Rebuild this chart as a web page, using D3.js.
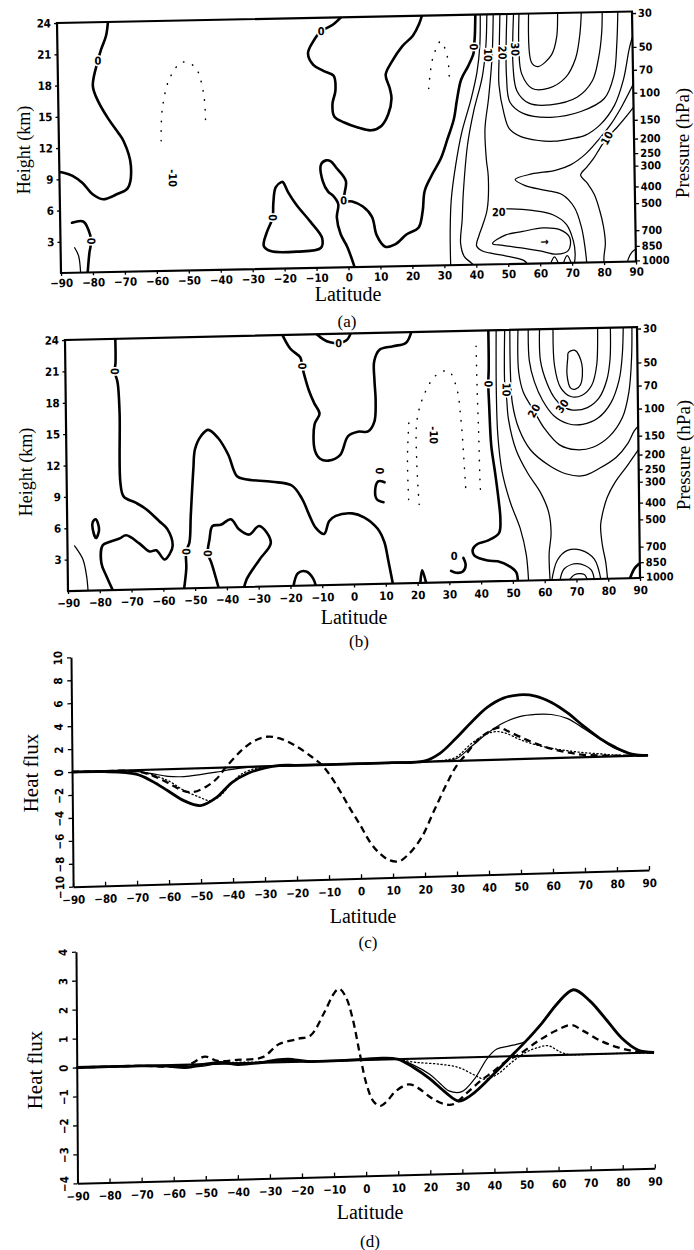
<!DOCTYPE html>
<html><head><meta charset="utf-8">
<script src="https://cdn.jsdelivr.net/npm/d3@7/dist/d3.min.js"></script>
<style>
body{margin:0;background:#fff;}
svg{display:block;}
.tk{font-family:"DejaVu Sans Condensed","DejaVu Sans",sans-serif;font-weight:bold;font-size:11.5px;fill:#000;}
.ttl{font-family:"Liberation Serif","DejaVu Serif",serif;fill:#000;}
.cl{font-family:"DejaVu Sans Condensed","DejaVu Sans",sans-serif;font-weight:bold;font-size:11px;fill:#000;stroke:#fff;stroke-width:3px;paint-order:stroke;}
</style></head><body>
<svg id="fig" width="694" height="1250" xmlns="http://www.w3.org/2000/svg"></svg>
<script>
// ================= DATA =================
const latTicks = [-90,-80,-70,-60,-50,-40,-30,-20,-10,0,10,20,30,40,50,60,70,80,90];
const heightTicks = [3,6,9,12,15,18,21,24];
const pressureTicks = [30,50,70,100,150,200,250,300,400,500,700,850,1000];
const pressureHeights = [23.85,20.6,18.4,16.2,13.6,11.8,10.4,9.2,7.2,5.6,3.0,1.5,0.1];
const fluxTicksC = [-10,-8,-6,-4,-2,0,2,4,6,8,10];
const fluxTicksD = [-4,-3,-2,-1,0,1,2,3,4];

// ---- panel (a): contours [latitude, height km] ----
const aZeroWest = [[-73.9,24.5],[-74.7,22.7],[-76.3,21.4],[-77.4,20.3],[-79.1,17.9],[-77.5,16.4],[-74.4,14.7],[-71.5,13.4],[-69.7,12.5],[-67.6,10.2],[-68.7,8.0],[-71.8,7.5],[-76.5,7.0],[-79.7,7.5],[-82.8,8.6],[-85.9,9.3],[-88.4,9.6],[-91,9.7]];
const aZeroSW = [[-86.3,4.8],[-82.8,4.9],[-81.2,4.1],[-80.4,3.0],[-81.0,1.9],[-81.8,-0.5]];
const aThinSW = [[-85.6,2.4],[-84.4,1.6],[-83.8,-0.5]];
const aZeroTop = [[0.5,24.5],[-3.7,23.3],[-7.4,22.7],[-10,21.7],[-11.6,20.6],[-10,19.5],[-6.9,18.9],[-3.7,18.4],[-3.2,17.0],[-4.2,15.7],[-3.7,14.5],[-0.6,13.9],[3.6,13.4],[7.8,13.1],[11,13.5],[13.2,14.6],[14.3,16.1],[13.8,17.1],[12.6,18.4],[14.5,19.6],[17.9,21.1],[21.3,22.1],[23.3,23.2],[24.7,24.5]];
const aZeroLobe = [[-20.6,8.3],[-22.4,7.8],[-23.2,6.3],[-23.5,4.9],[-25.4,3.5],[-26.4,2.2],[-24.3,1.7],[-15.9,1.6],[-8.6,1.9],[-8.1,2.85],[-11.7,4.45],[-15.9,6.05],[-18.5,7.3],[-20.1,8.3]];
const aZeroMain = [[2.4,-0.5],[-0.2,1.9],[-2.3,3.2],[-3.4,4.8],[-2.9,6.1],[-4.5,6.9],[-6.0,7.3],[-7.6,8.3],[-8.1,9.9],[-6.5,10.3],[-5.0,10.2],[-3.4,9.6],[-0.4,8.3],[-0.8,7.2],[-1.2,6.4],[1.5,6.3],[4.8,5.8],[7.6,4.8],[9.0,3.0],[11.6,1.9],[14.7,2.1],[18.4,3.05],[22.1,3.65],[23.5,5.25],[24.2,7.15],[26.3,8.55],[29.5,10.3],[31.6,12.1],[33.7,14.0],[34.8,15.9],[36.2,17.8],[38.5,19.1],[40.2,20.3],[40.4,21],[40.7,22.0],[41.0,24.5]];
const aC5 = [[32.0,-0.5],[32.0,3.2],[32.5,6.3],[34.0,9.5],[36.1,12.7],[39.2,15.9],[41.2,18.5],[42.2,21],[42.5,24.5]];
const aC10 = [[40.6,-0.5],[38.4,0.2],[36.3,0.8],[35.2,2.1],[35.8,4.3],[36.3,6.9],[37.9,11.6],[40.0,14.8],[42.8,18],[44.1,21],[44.6,24.5]];
const aC15 = [[46.6,24.5],[46,20],[44.7,16],[43.4,13],[43.7,10],[44.2,8.45],[43.7,5.3],[42.1,3.7],[41,2.8],[40.2,1.8],[42,1.3],[44.2,1.1],[50.5,0.7],[55,0.3],[57,-0.5]];
const aC20 = [[48.7,24.5],[48.2,20],[48,17.2],[49.4,14.5],[51,13.0],[54.6,12.2],[60,11.8],[65.2,11.7],[70,11.9],[74.7,12.2],[79.5,13.2],[84,15],[87,17.5],[89,20.5],[90.5,22]];
const aC25 = [[50.9,24.5],[50.4,18],[51.4,15.5],[55.6,14.4],[64,14.0],[73.5,14.5],[80.9,15.7],[84,17.9],[85.1,21],[85.6,24.5]];
const aC30 = [[53.0,24.5],[52.5,19.0],[53.6,16.6],[57.3,15.4],[64.0,15.2],[72.5,15.9],[77.2,17.4],[79.3,19.6],[80.4,22.0],[80.7,24.5]];
const aC35 = [[54.7,24.5],[54.4,20.5],[55.2,18.2],[58.4,16.8],[63.6,16.8],[68.9,17.8],[72.1,19.6],[73.6,22.0],[74.2,24.5]];
const aC40 = [[57.7,24.5],[58.3,19.3],[60.3,18.9],[64.6,20.0],[66.3,21.7],[66.7,24.5]];
const aNotch15 = [[91,17.6],[86.5,15],[83,13.3],[79,11.8],[74.7,10.4],[70,9.4],[65.2,8.9],[57.8,8.6],[52.6,8.1],[55.7,7.5],[62.1,7.0],[67.3,6.55],[71,5.3],[73.1,3.4],[74.1,1.5],[74.7,-0.5]];
const aLow20 = [[49.8,5.3],[51,5.3],[57.8,5.1],[64.2,4.65],[68.4,3.7],[70.5,2.1],[71,0.85],[70.5,-0.5]];
const aLoop25 = [[45.2,2.0],[49.4,2.8],[54.7,3.1],[61,3.4],[66.3,3.2],[69.4,2.4],[68.9,1.2],[65.2,0.85],[60,1.2],[54.7,1.5],[48.4,1.8]];
const aEast10 = [[91,15.2],[87.3,13.8],[84.7,12.9],[81.5,11.9],[79.4,11.0],[77.3,10.0],[75.2,9.2],[73.1,8.4],[75.2,7.6],[77.3,6.5],[78.9,4.96],[80,3.4],[80.5,1.8],[80,0.5],[80,-0.5]];
const aBump1 = [[63,-0.3],[64.5,0.6],[66,-0.3]];
const aBump2 = [[67,-0.3],[68.5,0.7],[70,-0.3]];
const aBump3 = [[87,-0.3],[88.5,0.8],[91,1.4]];
const aNeg1 = [[-58,12.5],[-57.5,15.5],[-55,18.5],[-51,20],[-47,19.5],[-44.5,17],[-44,14]];
const aNeg2 = [[26,17],[27.5,20],[30,21.5],[32,20],[32.5,17.5]];
const aLabels = [['0',-77.4,20.3],['0',-80.4,3.0],['0',-7.4,22.7],['0',-23.5,4.9],['0',-1.2,6.4],['0',40.3,20.9],['10',44.7,20.1],['20',49.2,20.3],['30',53.2,20.6],['-10',-54.6,8.9],['10',81.5,11.9],['20',47.3,5.0],['\u2192',61.5,2.1]];

// ---- panel (b): contours [latitude, height km] ----
const bZeroW = [[-74.2,24.5],[-74.2,21.7],[-74.5,20.9],[-73.6,19.8],[-73.1,16.9],[-73.1,10.2],[-72.1,8.9],[-68.4,8.3],[-65.3,7.7],[-61.1,6.5],[-58.5,5.7],[-56.9,4.1],[-57.9,3.3],[-59.5,2.8],[-62.1,3.7],[-64.2,3.6],[-67.4,4.4],[-71.5,5.2],[-73.6,4.9],[-76.8,4.6],[-78.9,4.3],[-79.4,2.6],[-77.8,1.3],[-75.2,-0.5]];
const bDiamond = [[-82.0,6.5],[-81.0,6.8],[-80.0,5.8],[-81.0,5.0],[-82.0,5.9]];
const bThinW = [[-87.8,4.3],[-87.3,4.1],[-85.2,3.0],[-84.1,1.4],[-83.6,-0.5]];
const bZeroM1 = [[-53.7,-0.5],[-52.7,1.9],[-52.7,3.5],[-51.6,4.4],[-51.1,6.9],[-50.1,11.4],[-49.5,13.3],[-47.4,14.6],[-45.3,15.1],[-42.2,14.3],[-39.1,12.7],[-36.4,10.6],[-33.8,10.3],[-25.4,10.0],[-19.2,9.6],[-16.0,8.3],[-13.9,6.8],[-11.8,5.5],[-9.2,4.9],[-7.6,6.1],[-5.5,6.6],[-0.3,6.8],[3.4,6.4],[7.6,5.3],[9.7,4.0],[10.8,2.35],[11.8,0.7],[12.5,-0.5]];
const bZeroM2 = [[-42.2,-0.5],[-44.8,2.4],[-45.9,3.3],[-45.3,4.6],[-44.3,5.9],[-41.7,6.0],[-38.5,6.5],[-35.9,5.5],[-32.8,5.0],[-29.6,5.8],[-26,4.2],[-29.6,2.6],[-33.8,0.7],[-34.9,-0.5]];
const bZeroTop = [[-22.3,24.5],[-19.2,22.7],[-16,21.8],[-15.5,21.0],[-14.9,20.2],[-13.4,18.6],[-11.8,17.4],[-10.2,16.4],[-11.8,15.4],[-11.8,12.9],[-10.2,12.1],[-7.6,11.9],[-3.9,12.4],[-1.3,14.2],[1.8,14.6],[5.0,14.6],[7.0,15.5],[7.5,17.5],[7.2,19.5],[7.2,21.3],[9.0,22.4],[13.2,22.7],[17.3,23.0],[19.4,24.5]];
const bZeroTopU = [[-12.5,24.5],[-8.7,23.5],[-6.6,23.2],[-3.9,23.1],[-1.3,23.4],[0.5,24.5]];
const bZeroC = [[10,9.7],[8,9.8],[7,8.9],[7.5,8.1],[9.6,7.8]];
const bBump1 = [[-19.2,-0.3],[-17.6,1.2],[-15,1.35],[-12.9,0.7],[-11.8,-0.3]];
const bBump2 = [[20.8,-0.3],[21.5,1.2],[22.9,-0.3]];
const bZeroE = [[43.2,24.5],[43.2,20.4],[43.0,18.9],[43.2,16.8],[43.7,13.0],[44.8,10.4],[45.8,7.8],[46.3,5.9],[45.8,4.6],[42.2,3.9],[39.0,3.6],[37.5,3.1],[38.0,2.5],[42.2,2.0],[45.3,1.9],[49.0,1.4],[51.1,0.8],[51.6,-0.5]];
const bZeroCurl = [[34.5,2.3],[35.2,1.6],[34.3,1.0],[32.2,0.9],[30.6,1.1]];
const bZeroCorner = [[86.5,-0.3],[88.5,1.0],[91,1.6]];
const bC5 = [[45.7,24.5],[45.5,18],[45.8,14],[47,10.5],[49.5,7.5],[52.5,5],[54.3,2.5],[55,-0.5]];
const bC10L = [[48.4,24.5],[48.2,18.6],[48.7,17.5],[49.2,15.5],[51.5,12.5],[55,10.3],[59,8.4],[61.5,6.5],[62.2,4.5],[61.5,2.5],[61.8,-0.5]];
const bC15 = [[50,24.5],[50,20],[50.5,17],[52.5,14.5],[56,12.5],[62.1,10.9],[67.3,10.1],[72.5,9.9],[77.8,10.6],[83,11.6],[86.7,12.9],[88.8,14.1],[91,14.8]];
const bC20 = [[52.6,24.5],[52.6,20],[54,18],[57.3,16.2],[60.5,14.5],[65.2,12.9],[70.4,12.4],[75.7,12.6],[80.9,13.6],[85.1,15.4],[87.2,17.8],[88.2,21.2],[88.4,24.5]];
const bC25 = [[55.8,24.5],[56,21],[57.5,19],[60,17.2],[63.5,15.7],[68,14.9],[72.5,14.8],[77.5,15.4],[81.5,16.8],[84.2,19],[85.3,21.5],[85.7,24.5]];
const bC30 = [[59.4,24.5],[59.5,21],[61.5,18.8],[64,17.3],[66.2,16.6],[69.4,16.2],[74.1,16.4],[77.8,17.3],[80.3,19],[81.4,21],[81.6,24.5]];
const bC35 = [[63.6,24.5],[63.9,20.5],[65.7,18.4],[68.9,17.5],[72.5,17.6],[75.5,18.5],[77.2,20.5],[77.6,24.5]];
const bC40 = [[68.3,21.7],[70.4,21.9],[72.5,20.6],[72,18.6],[70.4,18.2],[68.9,18.3],[67.8,19.6],[68.1,21.2]];
const bC10R = [[91,12.7],[86.5,10.8],[82.5,9.2],[80,7.8],[78.5,6.3],[77.8,5.1],[78.3,3.2],[79.3,1.55],[79.9,-0.5]];
const bArch1 = [[62.1,-0.3],[64.1,1.9],[67.3,2.8],[71.5,2.8],[75.7,1.9],[77.8,-0.3]];
const bArch2 = [[64.7,-0.3],[66.2,1.05],[70.4,1.5],[74.6,0.9],[75.7,-0.3]];
const bArch3 = [[67.3,-0.3],[69.4,0.45],[72.5,0.45],[73.6,-0.3]];
const bNeg1 = [[20.8,7.5],[20.2,11.6],[20.4,15.5],[22.5,17.8],[26.5,19.8],[30.5,20.2],[33,18.6],[34.3,15.4],[35,12],[35.5,9]];
const bNeg2 = [[39.3,22.5],[39.5,18],[39.8,14],[40,10],[40.2,8]];
const bNeg3 = [[17.5,8],[17.3,12],[18,16]];
const bLabels = [['0',-74.5,20.9],['0',-15.5,21.0],['0',-3.9,23.1],['0',-52.7,3.5],['0',-45.9,3.3],['0',8.5,10.8],['0',43.0,18.9],['0',31.6,2.5],['10',48.7,18.3],['20',57.3,16.2],['30',66.2,16.6],['-10',25.6,14.1]];

// ---- panel (c): heat flux series ----
const cThickLat = [-90,-80,-70,-65,-60,-55,-50,-45,-40,-35,-30,-25,-20,-10,0,10,20,25,30,35,40,45,50,55,60,65,70,75,80,85,90];
const cThickVal = [0,-0.05,-0.35,-1.0,-1.9,-2.8,-3.25,-2.6,-1.3,-0.55,-0.15,0.05,0.02,0,0,0,0.05,0.7,1.95,3.35,4.6,5.35,5.6,5.45,4.85,3.9,2.7,1.6,0.75,0.15,0];
const cThinLat = [-90,-80,-70,-65,-60,-55,-50,-45,-40,-35,-30,-20,-10,0,10,20,25,30,35,40,45,50,55,60,65,70,75,80,85,90];
const cThinVal = [0,-0.02,-0.1,-0.35,-0.62,-0.68,-0.55,-0.38,-0.18,-0.05,0,0,0,0,0,0,0.05,0.18,1.25,2.35,3.2,3.7,3.85,3.8,3.4,2.5,1.55,0.65,0.15,0];
const cDotLat = [-90,-80,-70,-65,-60,-55,-50,-47,-44,-40,-37,-32,-25,-10,0,10,20,25,30,35,40,43,46,50,55,60,65,70,75,80,90];
const cDotVal = [0,-0.02,-0.1,-0.45,-1.0,-1.9,-2.55,-2.85,-2.5,-1.3,-0.6,-0.1,0,0,0,0,0,0.05,0.32,1.5,2.3,2.45,2.25,1.7,1.2,0.85,0.6,0.39,0.25,0.1,0];
const cDashLat = [-90,-80,-70,-65,-60,-55,-52,-48,-45,-42,-37,-33,-29,-25,-20,-15,-12,-9,-6,-3,0,3,6,9,12,15,19,23,27,30,33,37,40,43.5,46,50,55,60,65,70,80,90];
const cDashVal = [0,0,-0.1,-0.5,-1.2,-1.95,-2.05,-1.6,-1.0,0.0,1.45,2.25,2.58,2.4,1.7,0.7,0.0,-1.1,-2.5,-4.0,-5.4,-6.9,-7.9,-8.5,-8.6,-8.0,-6.6,-4.3,-2.0,-0.5,0.5,1.8,2.4,2.8,2.5,1.95,1.3,0.8,0.45,0.2,0.05,0];

// ---- panel (d): heat flux series ----
const dThickLat = [-90,-80,-70,-62,-56,-50,-45,-40,-33,-28,-24,-18,-10,0,5,10,15,20,25,29,33,40,45,50,55,60,65,70,75,80,85,90];
const dThickVal = [0,0,0,-0.03,-0.1,0.0,0.05,-0.04,0.0,0.08,0.1,0.0,0.0,0.03,0.05,0,-0.3,-0.7,-1.2,-1.5,-1.3,-0.6,-0.05,0.5,1.1,1.78,2.24,1.85,1.2,0.52,0.1,0];
const dThinLat = [-90,-70,-58,-52,-45,-38,-30,-25,-15,0,5,10,15,20,23,26,30,34,38,41,45,50,54,58,62,65,70,75,80,85,90];
const dThinVal = [0,0,-0.03,-0.08,0.02,0.0,0.03,0.06,0.0,0.02,0.04,0,-0.22,-0.55,-0.85,-1.14,-1.18,-0.75,-0.05,0.26,0.36,0.5,0.98,1.55,2.05,2.24,1.85,1.2,0.52,0.1,0];
const dDotLat = [-90,-70,-55,-45,-30,-20,0,10,12,16,23,29,34,37,41,45.5,50,54,57,61,64,70,80,90];
const dDotVal = [0,0,-0.05,0.03,0.02,0,0,0,-0.05,-0.13,-0.21,-0.34,-0.62,-0.77,-0.62,-0.22,0.12,0.28,0.33,0.09,0,0,0,0];
const dDashLat = [-90,-80,-70,-60,-55,-50,-46,-40,-32,-27,-21,-17,-13,-9.4,-8,-6,-4,-1.7,0.3,2.4,4.5,6.6,9.4,13.5,16.3,20.5,24.7,27.5,31.6,35.8,40,44,48,54,59.4,64.3,67.8,73.4,79,84.6,90];
const dDashVal = [0,0,0,-0.05,0.0,0.26,0.1,0.12,0.19,0.62,0.79,0.9,1.62,2.37,2.48,2.2,1.49,0.2,-0.84,-1.43,-1.6,-1.45,-1.1,-0.88,-1.01,-1.37,-1.6,-1.6,-1.23,-0.83,-0.5,-0.16,0.06,0.51,0.84,1.02,0.82,0.45,0.2,0.05,0];

// ================= DRAWING =================
const svg = d3.select('#fig');
svg.append('rect').attr('width',694).attr('height',1250).attr('fill','#fff');

// panel placed as an affine frame (the scanned figure is slightly skewed)
function makePanel(TL, TR, BL) {
  const W = TR[0]-TL[0], H = BL[1]-TL[1];
  const b = (TR[1]-TL[1])/W, c = (BL[0]-TL[0])/H;
  const g = svg.append('g').attr('transform', `matrix(1,${b},${c},1,${TL[0]},${TL[1]})`);
  return {g, W, H};
}
function cleanAxis(a) {
  a.attr('font-family', null).attr('font-size', null);
  a.selectAll('text').attr('class', 'tk');
  a.selectAll('line').attr('stroke', '#000').attr('stroke-width', 1.3);
}

function drawContourPanel(geom, lines, labels, rots, clipId, padBottom) {
  const p = makePanel(geom.TL, geom.TR, geom.BL);
  const x = d3.scaleLinear().domain([-90,90]).range([0,p.W]);
  const y = d3.scaleLinear().domain([0,24]).range([p.H,0]);
  const open = d3.line().x(d=>x(d[0])).y(d=>y(d[1])).curve(d3.curveCatmullRom.alpha(0.5));
  const closed = d3.line().x(d=>x(d[0])).y(d=>y(d[1])).curve(d3.curveCatmullRomClosed.alpha(0.5));
  p.g.append('clipPath').attr('id', clipId).append('rect').attr('width', p.W).attr('height', p.H);
  const inner = p.g.append('g').attr('clip-path', `url(#${clipId})`);
  inner.selectAll('path').data(lines).join('path')
    .attr('d', d => (d.closed ? closed : open)(d.pts))
    .attr('fill', 'none').attr('stroke', '#000')
    .attr('stroke-width', d => d.type === 'zero' ? 2.6 : (d.type === 'neg' ? 1.5 : 1.25))
    .attr('stroke-dasharray', d => d.type === 'neg' ? '0.5,9' : null)
    .attr('stroke-linecap', 'round').attr('stroke-linejoin', 'round');
  inner.selectAll('text').data(labels).join('text').attr('class', 'cl')
    .attr('transform', (d,i) => `translate(${x(d[1])},${y(d[2])}) rotate(${rots[i]})`)
    .attr('text-anchor', 'middle').attr('dy', '0.35em').text(d => d[0]);
  p.g.append('rect').attr('width', p.W).attr('height', p.H)
    .attr('fill', 'none').attr('stroke', '#000').attr('stroke-width', 2.2);
  const bx = p.g.append('g').attr('transform', `translate(0,${p.H})`)
    .call(d3.axisBottom(x).tickValues(latTicks).tickSize(3).tickSizeOuter(0).tickPadding(padBottom));
  bx.select('.domain').remove(); cleanAxis(bx);
  const ly = p.g.append('g')
    .call(d3.axisLeft(y).tickValues(heightTicks).tickSize(3).tickSizeOuter(0).tickPadding(3));
  ly.select('.domain').remove(); cleanAxis(ly);
  const ry = p.g.append('g').attr('transform', `translate(${p.W},0)`)
    .call(d3.axisRight(y).tickValues(pressureHeights).tickFormat((d,i) => pressureTicks[i]).tickSize(4).tickSizeOuter(0).tickPadding(2));
  ry.select('.domain').remove(); cleanAxis(ry);
  ry.selectAll('text').style('font-size', '11px');
  return p;
}

function drawFluxPanel(geom, yDom, yTicks, series) {
  const p = makePanel(geom.TL, geom.TR, geom.BL);
  const x = d3.scaleLinear().domain([-90,90]).range([0,p.W]);
  const y = d3.scaleLinear().domain(yDom).range([p.H,0]);
  const line = d3.line().x(d=>x(d[0])).y(d=>y(d[1])).curve(d3.curveCatmullRom.alpha(0.5));
  p.g.append('line').attr('x1', x(-90)).attr('x2', x(90)).attr('y1', y(0)).attr('y2', y(0))
    .attr('stroke', '#000').attr('stroke-width', 2.2);
  const sty = {
    thick: {w: 2.8, dash: null},
    thin:  {w: 1.2, dash: null},
    dash:  {w: 2.3, dash: '7,4.5'},
    dot:   {w: 1.3, dash: '1.2,2.6'}
  };
  p.g.selectAll('path.s').data(series).join('path').attr('class', 's')
    .attr('d', s => line(d3.zip(s.lat, s.val)))
    .attr('fill', 'none').attr('stroke', '#000')
    .attr('stroke-width', s => sty[s.kind].w)
    .attr('stroke-dasharray', s => sty[s.kind].dash)
    .attr('stroke-linecap', s => s.kind === 'dot' ? 'round' : 'butt')
    .attr('stroke-linejoin', 'round');
  const ax = p.g.append('g').attr('transform', `translate(0,${p.H})`)
    .call(d3.axisBottom(x).tickValues(latTicks).tickSize(-4).tickSizeOuter(0).tickPadding(9));
  cleanAxis(ax);
  ax.select('.domain').attr('stroke', '#000').attr('stroke-width', 2);
  const ay = p.g.append('g')
    .call(d3.axisLeft(y).tickValues(yTicks).tickSize(4).tickSizeOuter(0));
  cleanAxis(ay);
  ay.select('.domain').attr('stroke', '#000').attr('stroke-width', 2);
  ay.selectAll('text').attr('x', null).attr('dy', null).attr('text-anchor', 'middle')
    .attr('transform', 'translate(-13,0) rotate(-90)').attr('dy', '0.35em');
  return p;
}

// ---- panel (a) ----
const Z = 'zero', T = 'thin', N = 'neg';
drawContourPanel({TL:[57,23], TR:[632,11.5], BL:[61,273]}, [
  {pts:aZeroWest,type:Z},{pts:aZeroSW,type:Z},{pts:aThinSW,type:T},{pts:aZeroTop,type:Z},
  {pts:aZeroLobe,type:Z,closed:true},{pts:aZeroMain,type:Z},
  {pts:aC5,type:T},{pts:aC10,type:T},{pts:aC15,type:T},{pts:aC20,type:T},{pts:aC25,type:T},
  {pts:aC30,type:T},{pts:aC35,type:T},{pts:aC40,type:T},{pts:aNotch15,type:T},{pts:aLow20,type:T},
  {pts:aLoop25,type:T,closed:true},{pts:aEast10,type:T},{pts:aBump1,type:T},{pts:aBump2,type:T},{pts:aBump3,type:T},
  {pts:aNeg1,type:N},{pts:aNeg2,type:N}
], aLabels, [0,90,0,90,0,90,90,90,90,90,-60,0,0], 'clipA', 3);

// ---- panel (b) ----
drawContourPanel({TL:[65,340], TR:[637,327], BL:[68,591]}, [
  {pts:bZeroW,type:Z},{pts:bDiamond,type:Z,closed:true},{pts:bThinW,type:T},{pts:bZeroM1,type:Z},
  {pts:bZeroM2,type:Z},{pts:bZeroTop,type:Z},{pts:bZeroTopU,type:Z},{pts:bZeroC,type:Z},
  {pts:bBump1,type:Z},{pts:bBump2,type:Z},{pts:bZeroE,type:Z},{pts:bZeroCurl,type:Z},{pts:bZeroCorner,type:Z},
  {pts:bC5,type:T},{pts:bC10L,type:T},{pts:bC15,type:T},{pts:bC20,type:T},{pts:bC25,type:T},
  {pts:bC30,type:T},{pts:bC35,type:T},{pts:bC40,type:T,closed:true},{pts:bC10R,type:T},
  {pts:bArch1,type:T},{pts:bArch2,type:T},{pts:bArch3,type:T},
  {pts:bNeg1,type:N},{pts:bNeg2,type:N},{pts:bNeg3,type:N}
], bLabels, [90,90,0,90,90,90,90,0,90,-60,-55,90], 'clipB', 5);

// ---- panel (c) ----
drawFluxPanel({TL:[71,657.3], TR:[646.9,640.6], BL:[73.1,886.7]}, [-10,10], fluxTicksC, [
  {lat:cDashLat, val:cDashVal, kind:'dash'},
  {lat:cDotLat, val:cDotVal, kind:'dot'},
  {lat:cThinLat, val:cThinVal, kind:'thin'},
  {lat:cThickLat, val:cThickVal, kind:'thick'}
]);

// ---- panel (d) ----
drawFluxPanel({TL:[76,951.7], TR:[653.3,936.7], BL:[77.5,1183.3]}, [-4,4], fluxTicksD, [
  {lat:dDashLat, val:dDashVal, kind:'dash'},
  {lat:dDotLat, val:dDotVal, kind:'dot'},
  {lat:dThinLat, val:dThinVal, kind:'thin'},
  {lat:dThickLat, val:dThickVal, kind:'thick'}
]);

// ---- titles ----
const titles = [
  ['Height (km)', 24, 150, -90, 18], ['Pressure (hPa)', 682, 143, -90, 19],
  ['Latitude', 348, 301, 0, 20], ['(a)', 347, 327, 0, 17],
  ['Height (km)', 26, 472, -90, 18], ['Pressure (hPa)', 683, 455, -90, 19],
  ['Latitude', 354, 624, 0, 20], ['(b)', 359, 647, 0, 17],
  ['Heat flux', 31, 773, -90, 21], ['Latitude', 363, 923, 0, 20], ['(c)', 368, 948, 0, 17],
  ['Heat flux', 35, 1070, -90, 21], ['Latitude', 370, 1219, 0, 20], ['(d)', 370, 1247, 0, 17]
];
svg.selectAll('text.ttl').data(titles).join('text').attr('class', 'ttl')
  .attr('transform', d => `translate(${d[1]},${d[2]}) rotate(${d[3]})`)
  .attr('text-anchor', 'middle').attr('dy', d => d[3] ? '0.35em' : null)
  .style('font-size', d => d[4] + 'px').text(d => d[0]);
</script></body></html>
